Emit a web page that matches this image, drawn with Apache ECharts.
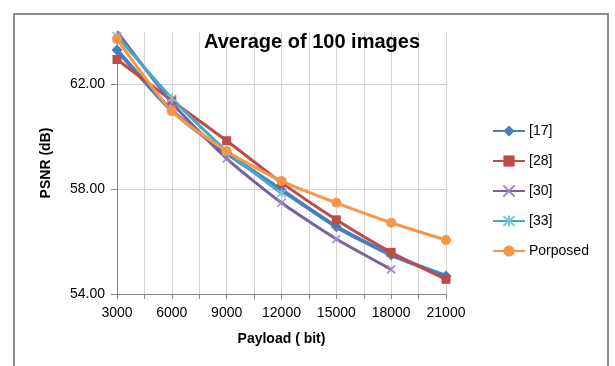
<!DOCTYPE html>
<html>
<head>
<meta charset="utf-8">
<script src="https://cdn.jsdelivr.net/npm/echarts@6/dist/echarts.min.js"></script>
<style>
  html, body { margin: 0; padding: 0; background: #ffffff; }
  #chart { width: 615px; height: 366px; }
</style>
</head>
<body>
<div id="chart"></div>
<script>
// Payload in bits (x) and average PSNR in dB (y) for each method
const payload = [3000, 6000, 9000, 12000, 15000, 18000, 21000];
const ref17 = [63.31, 61.00, 59.38, 57.97, 56.57, 55.49, 54.69];
const ref28 = [62.95, 61.38, 59.85, 58.25, 56.83, 55.59, 54.56];
const ref30 = [64.02, 61.30, 59.17, 57.48, 56.10, 54.94, null];
const ref33 = [63.85, 61.47, 59.45, 57.84, null, null, null];
const proposed = [63.73, 60.98, 59.45, 58.31, 57.48, 56.72, 56.06];

const seriesNames = ['[17]', '[28]', '[30]', '[33]', 'Porposed'];
const xTickLabels = [3000, 6000, 9000, 12000, 15000, 18000, 21000];
const yTickLabels = [54, 58, 62];

const FONT = 'Liberation Sans';
const crossPath = 'path://M0,0L10,10M10,0L0,10';
const starPath = 'path://M0,0L10,10M10,0L0,10M5,-1L5,11';

function pairs(values) {
  return payload.map((x, i) => [x, values[i]]);
}

function lineSeries(name, values, color, width, symbol, size, extra) {
  return Object.assign({
    name: name,
    type: 'line',
    data: pairs(values),
    smooth: 0.2,
    connectNulls: false,
    symbol: symbol,
    symbolSize: size,
    showAllSymbol: true,
    lineStyle: { color: color, width: width },
    itemStyle: { color: color },
    emphasis: { disabled: true }
  }, extra || {});
}

const chart = echarts.init(document.getElementById('chart'), null, { renderer: 'canvas' });

chart.setOption({
  animation: false,
  backgroundColor: '#ffffff',
  textStyle: { fontFamily: FONT },
  graphic: [{
    type: 'rect',
    shape: { x: 14, y: 14, width: 594, height: 380 },
    style: { fill: 'none', stroke: '#8c8c8c', lineWidth: 2 },
    silent: true,
    z: -10
  }],
  title: {
    text: 'Average of 100 images',
    left: 204,
    top: 32,
    padding: 0,
    textStyle: { fontFamily: FONT, fontSize: 20, fontWeight: 'bold', color: '#000000' }
  },
  grid: { left: 117, right: 169, top: 32, bottom: 72, containLabel: false },
  legend: {
    orient: 'vertical',
    left: 492,
    top: 124,
    itemWidth: 32,
    itemHeight: 14,
    itemGap: 16,
    padding: 0,
    data: seriesNames,
    textStyle: { fontFamily: FONT, fontSize: 14, color: '#000000', padding: [0, 0, 0, -1] }
  },
  xAxis: {
    type: 'value',
    min: 3000,
    max: 21000,
    interval: 1500,
    name: 'Payload ( bit)',
    nameLocation: 'middle',
    nameGap: 38,
    nameTextStyle: { fontFamily: FONT, fontSize: 14, fontWeight: 'bold', color: '#000000' },
    axisLine: { lineStyle: { color: '#868686', width: 1 } },
    axisTick: { show: true, length: 5, lineStyle: { color: '#868686' } },
    axisLabel: {
      customValues: xTickLabels,
      formatter: v => String(v),
      fontFamily: FONT, fontSize: 14, color: '#000000', margin: 12
    },
    splitLine: { show: true, lineStyle: { color: '#d4d4d4', width: 1 } }
  },
  yAxis: {
    type: 'value',
    min: 54,
    max: 64,
    interval: 2,
    name: 'PSNR (dB)',
    nameLocation: 'middle',
    nameGap: 64,
    nameTextStyle: { fontFamily: FONT, fontSize: 14, fontWeight: 'bold', color: '#000000' },
    axisLine: { show: true, lineStyle: { color: '#868686', width: 1 } },
    axisTick: { show: true, length: 6, customValues: yTickLabels, lineStyle: { color: '#868686' } },
    axisLabel: {
      customValues: yTickLabels,
      formatter: v => v.toFixed(2),
      fontFamily: FONT, fontSize: 14, color: '#000000', margin: 12
    },
    splitLine: { show: true, lineStyle: { color: '#d4d4d4', width: 1 } }
  },
  series: [
    lineSeries(seriesNames[0], ref17, '#4a7ebb', 4, 'diamond', 11),
    lineSeries(seriesNames[1], ref28, '#be4b48', 3, 'rect', 9),
    lineSeries(seriesNames[2], ref30, '#7d60a0', 3, crossPath, 8, {
      itemStyle: { color: '#9b86c4', borderColor: '#9b86c4', borderWidth: 1.5 }
    }),
    lineSeries(seriesNames[3], ref33, '#46aac5', 3, starPath, 9, {
      itemStyle: { color: '#7cc4d8', borderColor: '#7cc4d8', borderWidth: 1.5 }
    }),
    lineSeries(seriesNames[4], proposed, '#f79646', 3, 'circle', 10)
  ]
});
</script>
</body>
</html>
